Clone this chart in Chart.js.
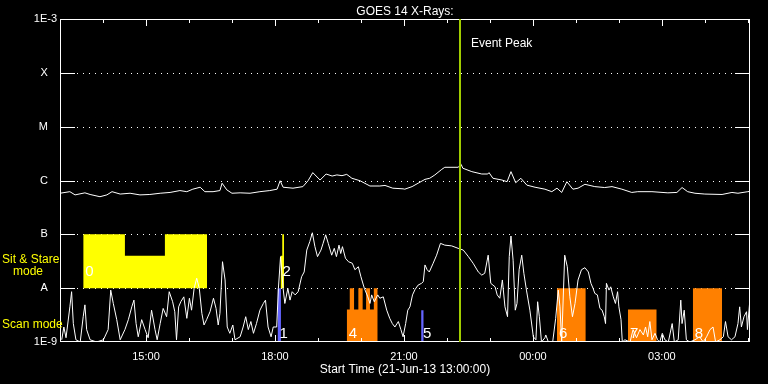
<!DOCTYPE html>
<html>
<head>
<meta charset="utf-8">
<script src="https://cdn.jsdelivr.net/npm/chart.js@4.4.1/dist/chart.umd.min.js"></script>
<style>
  html, body { margin: 0; padding: 0; background: #000; }
  canvas { display: block; }
</style>
</head>
<body>
<canvas id="goesChart" width="768" height="384"></canvas>
<script>
// times are clock hours from 21-Jun-13 13:00 (24 = 00:00 next day)
const longTimes = [13.00, 13.23, 13.35, 13.58, 13.70, 13.93, 14.09, 14.21, 14.40, 14.63, 14.86, 15.09, 15.33, 15.56,
  15.79, 15.95, 16.09, 16.26, 16.37, 16.56, 16.72, 16.77, 16.88, 17.00, 17.19, 17.42, 17.65, 17.88, 18.05, 18.12,
  18.19, 18.42, 18.65, 18.77, 18.88, 19.05, 19.19, 19.33, 19.44, 19.56, 19.67, 19.79, 19.98, 20.21, 20.44, 20.56,
  20.74, 20.98, 21.02, 21.19, 21.33, 21.49, 21.60, 21.72, 21.88, 21.95, 22.26, 22.33, 22.37, 22.58, 22.81, 22.95,
  22.98, 23.07, 23.28, 23.40, 23.49, 23.60, 23.72, 23.86, 24.05, 24.28, 24.44, 24.56, 24.67, 24.79, 24.93, 25.05,
  25.21, 25.44, 25.67, 25.84, 26.07, 26.30, 26.44, 26.77, 27.14, 27.35, 27.47, 27.60, 27.77, 28.00, 28.40, 28.63,
  28.77, 29.00, 29.05];
const longFlux = [5.8e-7, 6.2e-7, 5.4e-7, 5.9e-7, 5.5e-7, 5.0e-7, 5.4e-7, 6.2e-7, 5.6e-7, 5.8e-7, 5.4e-7, 5.5e-7, 5.8e-7, 6.0e-7,
  6.5e-7, 6.2e-7, 6.9e-7, 7.5e-7, 6.2e-7, 6.2e-7, 6.5e-7, 8.9e-7, 6.7e-7, 5.8e-7, 5.9e-7, 5.8e-7, 6.2e-7, 6.5e-7, 6.9e-7, 9.9e-7,
  7.5e-7, 7.2e-7, 7.7e-7, 9.9e-7, 1.40e-6, 1.02e-6, 1.32e-6, 1.21e-6, 1.27e-6, 1.23e-6, 1.30e-6, 1.10e-6, 9.9e-7, 7.9e-7, 7.9e-7, 8.1e-7,
  7.2e-7, 7.0e-7, 6.9e-7, 7.7e-7, 8.9e-7, 1.05e-6, 1.10e-6, 1.27e-6, 1.61e-6, 1.76e-6, 1.76e-6, 2.0e-6, 1.69e-6, 1.46e-6, 1.32e-6, 1.32e-6,
  1.40e-6, 1.10e-6, 1.02e-6, 9.5e-7, 1.46e-6, 9.1e-7, 1.10e-6, 8.2e-7, 7.5e-7, 6.9e-7, 6.2e-7, 7.2e-7, 6.0e-7, 9.5e-7, 6.9e-7, 7.2e-7,
  8.5e-7, 7.7e-7, 7.4e-7, 7.7e-7, 6.9e-7, 6.0e-7, 6.2e-7, 6.2e-7, 5.9e-7, 6.0e-7, 7.4e-7, 6.2e-7, 5.8e-7, 5.6e-7, 5.5e-7, 6.0e-7,
  5.8e-7, 6.2e-7, 6.3e-7];

const shortTimes = [13.04, 13.09, 13.14, 13.23, 13.27, 13.31, 13.37, 13.47, 13.54, 13.58, 13.62, 13.70, 13.85, 14.01,
  14.12, 14.18, 14.24, 14.32, 14.40, 14.51, 14.59, 14.67, 14.72, 14.77, 14.82, 14.90, 14.98, 15.05, 15.13, 15.21,
  15.26, 15.33, 15.40, 15.48, 15.54, 15.62, 15.67, 15.71, 15.76, 15.81, 15.88, 15.95, 16.01, 16.06, 16.12, 16.18,
  16.24, 16.30, 16.35, 16.41, 16.49, 16.57, 16.63, 16.68, 16.72, 16.78, 16.84, 16.89, 16.95, 17.02, 17.07, 17.19,
  17.26, 17.32, 17.38, 17.44, 17.50, 17.57, 17.65, 17.73, 17.78, 17.84, 17.91, 17.96, 18.04, 18.08, 18.13, 18.19,
  18.23, 18.30, 18.35, 18.40, 18.47, 18.54, 18.62, 18.68, 18.74, 18.81, 18.87, 18.93, 18.99, 19.07, 19.12, 19.18,
  19.24, 19.32, 19.38, 19.43, 19.49, 19.53, 19.57, 19.64, 19.71, 19.80, 19.86, 19.94, 20.00, 20.08, 20.16, 20.21,
  20.25, 20.31, 20.39, 20.44, 20.52, 20.60, 20.67, 20.73, 20.79, 20.87, 20.93, 20.98, 21.04, 21.09, 21.14, 21.20,
  21.26, 21.33, 21.41, 21.45, 21.49, 21.54, 21.59, 21.68, 21.76, 21.85, 21.95, 22.11, 22.26, 22.38, 22.50, 22.61,
  22.73, 22.81, 22.88, 22.96, 23.02, 23.12, 23.17, 23.23, 23.29, 23.35, 23.41, 23.45, 23.49, 23.54, 23.59, 23.63,
  23.68, 23.74, 23.79, 23.85, 23.93, 24.01, 24.07, 24.11, 24.15, 24.20, 24.28, 24.30, 24.36, 24.46, 24.53, 24.59,
  24.63, 24.67, 24.74, 24.80, 24.86, 24.92, 24.98, 25.05, 25.13, 25.21, 25.29, 25.35, 25.40, 25.44, 25.50, 25.56,
  25.61, 25.66, 25.69, 25.71, 25.77, 25.81, 25.87, 25.92, 25.97, 26.00, 26.05, 26.08, 26.14, 26.26, 26.33, 26.41,
  26.49, 26.57, 26.62, 26.67, 26.72, 26.77, 26.84, 26.90, 26.95, 27.01, 27.07, 27.15, 27.24, 27.29, 27.38, 27.44,
  27.47, 27.52, 27.57, 27.65, 27.77, 27.88, 27.96, 28.04, 28.12, 28.19, 28.25, 28.35, 28.43, 28.48, 28.54, 28.62,
  28.70, 28.77, 28.81, 28.85, 28.91, 28.97, 28.99, 29.05];
const shortFlux = [1.1e-9, 1.9e-9, 1.2e-9, 4.5e-9, 8.6e-9, 2.2e-9, 1.1e-9, 1.0e-9, 2.95e-9, 4.9e-9, 1.7e-9, 1.1e-9, 1.0e-9, 1.1e-9,
  1.7e-9, 9.2e-9, 5.2e-9, 2.6e-9, 1.1e-9, 1.7e-9, 2.6e-9, 4.5e-9, 6.0e-9, 2.2e-9, 1.25e-9, 2.6e-9, 1.7e-9, 1.2e-9, 3.9e-9, 1.7e-9,
  1.1e-9, 2.2e-9, 4.2e-9, 2.95e-9, 8.6e-9, 5.6e-9, 3.65e-9, 1.1e-9, 4.5e-9, 5.6e-9, 6.9e-9, 2.75e-9, 6.5e-9, 3.9e-9, 9.9e-9, 1.53e-8,
  9.9e-9, 3.4e-9, 2.07e-9, 2.6e-9, 3.65e-9, 6.5e-9, 4.2e-9, 2.07e-9, 3.4e-9, 3.1e-8, 1.42e-8, 1.9e-9, 1.45e-9, 2.07e-9, 1.1e-9, 1.25e-9,
  1.9e-9, 2.95e-9, 1.7e-9, 2.4e-9, 1.45e-9, 2.2e-9, 3.9e-9, 5.2e-9, 6.0e-9, 1.9e-9, 1.25e-9, 1.9e-9, 1.9e-9, 9.9e-9, 3.85e-8, 9.9e-9,
  5.2e-9, 9.9e-9, 6.0e-9, 8.6e-9, 7.5e-9, 8.6e-9, 1.63e-8, 2.0e-8, 5.1e-8, 7.3e-8, 1.07e-7, 5.9e-8, 3.85e-8, 5.1e-8, 6.8e-8, 9.8e-8,
  6.8e-8, 4.1e-8, 5.5e-8, 3.85e-8, 6.3e-8, 4.4e-8, 5.9e-8, 3.6e-8, 3.1e-8, 2.9e-8, 2.2e-8, 2.5e-8, 1.63e-8, 9.9e-9, 6.9e-9, 5.2e-9,
  7.5e-9, 5.6e-9, 7.5e-9, 6.5e-9, 6.9e-9, 3.9e-9, 2.75e-9, 2.2e-9, 1.9e-9, 2.4e-9, 1.7e-9, 1.25e-9, 2.2e-9, 3.9e-9, 4.5e-9, 7.5e-9,
  9.5e-9, 1.14e-8, 1.23e-8, 1.32e-8, 2.7e-8, 2.2e-8, 2.0e-8, 2.9e-8, 4.1e-8, 6.8e-8, 6.3e-8, 6.1e-8, 5.5e-8, 5.1e-8, 3.85e-8, 2.9e-8,
  2.0e-8, 1.75e-8, 1.89e-8, 4.1e-8, 1.23e-8, 1.06e-8, 7.5e-9, 6.5e-9, 1.42e-8, 4.5e-9, 2.95e-9, 3.85e-8, 9.3e-8, 3.3e-8, 3.9e-9, 5.2e-9,
  2.2e-8, 4.1e-8, 1.89e-8, 9.2e-9, 3.9e-9, 1.25e-9, 1.1e-9, 5.6e-9, 2.95e-9, 1.0e-9, 1.2e-9, 1.35e-9, 1.0e-9, 1.0e-9, 2.75e-9, 9.2e-9,
  4.5e-9, 1.0e-9, 4.1e-8, 2.5e-8, 6.9e-9, 2.95e-9, 5.2e-9, 1.42e-8, 2.2e-8, 2.4e-8, 2.0e-8, 1.23e-8, 9.9e-9, 8.0e-9, 7.5e-9, 4.2e-9,
  3.9e-9, 2.95e-9, 2.2e-9, 1.23e-8, 9.2e-9, 1.06e-8, 6.9e-9, 5.2e-9, 8.6e-9, 4.5e-9, 2.6e-9, 1.0e-9, 1.1e-9, 1.0e-9, 1.7e-9, 1.2e-9,
  1.7e-9, 1.35e-9, 1.9e-9, 1.25e-9, 2.4e-9, 1.1e-9, 1.45e-9, 1.1e-9, 1.0e-9, 1.45e-9, 1.1e-9, 1.0e-9, 2.2e-9, 1.0e-9, 1.1e-9, 6.0e-9,
  2.2e-9, 3.9e-9, 1.1e-9, 1.0e-9, 1.1e-9, 1.25e-9, 1.0e-9, 1.25e-9, 1.7e-9, 1.9e-9, 1.0e-9, 1.1e-9, 1.25e-9, 2.4e-9, 1.25e-9, 1.1e-9,
  1.25e-9, 2.2e-9, 4.5e-9, 1.9e-9, 2.95e-9, 3.65e-9, 1.7e-9, 6.5e-9];

// observing blocks: edges in hours, flux level of each step
const blockNames  = ['0', '2', '1', '4', '5', '6', '7', '8'];
const blockModes  = ['stare', 'stare', 'scanB', 'scan', 'scanB', 'scan', 'scan', 'scan'];
const blockEdges  = [
  [13.54, 14.51, 15.44, 16.42],
  [18.13, 18.17, 18.21],
  [18.06, 18.14],
  [19.67, 19.74, 19.84, 19.94, 20.04, 20.12, 20.21, 20.30, 20.39],
  [21.40, 21.46],
  [24.56, 25.23],
  [26.21, 26.88],
  [27.72, 28.40]
];
const blockLevels = [
  [1e-7, 4e-8, 1e-7],
  [4e-8, 1e-7],
  [1e-8],
  [4e-9, 1e-8, 4e-9, 1e-8, 4e-9, 1e-8, 4e-9, 1e-8],
  [3.9e-9],
  [1e-8],
  [4e-9],
  [1e-8]
];
const modeBase = { stare: 1e-8, scan: 1e-9, scanB: 1e-9 };

const eventPeak = 22.30;
const levelTicks  = [1e-9, 1e-8, 1e-7, 1e-6, 1e-5, 1e-4, 1e-3];
const levelLabels = ['1E-9', 'A   ', 'B   ', 'C   ', 'M   ', 'X   ', '1E-3'];
const flareLines  = [1e-8, 1e-7, 1e-6, 1e-5, 1e-4];
const hourTicks   = [15, 18, 21, 24, 27];

const modeColor = { stare: '#ffff00', scan: '#ff8000', scanB: '#6464ff' };
const FONT = '"Liberation Sans", Arial, sans-serif';

const pts = (xs, ys) => xs.map((x, i) => ({ x: x, y: ys[i] }));

const blockSets = blockNames.map((name, i) => {
  const base = modeBase[blockModes[i]];
  const e = blockEdges[i], l = blockLevels[i];
  const data = [{ x: e[0], y: base }];
  l.forEach((lev, k) => {
    data.push({ x: e[k], y: lev });
    data.push({ x: e[k + 1], y: lev });
  });
  data.push({ x: e[e.length - 1], y: base });
  return {
    data: data,
    borderColor: 'transparent',
    borderWidth: 0,
    backgroundColor: modeColor[blockModes[i]],
    pointRadius: 0,
    fill: { value: base }
  };
});

const decor = {
  id: 'decor',
  beforeDraw(chart) {
    const c = chart.ctx;
    c.save();
    c.fillStyle = '#000';
    c.fillRect(0, 0, chart.width, chart.height);
    c.restore();
  },
  beforeDatasetsDraw(chart) {
    const c = chart.ctx, a = chart.chartArea, ys = chart.scales.y;
    c.save();
    c.strokeStyle = '#fff';
    c.lineWidth = 1;
    flareLines.forEach(v => {
      const y = Math.round(ys.getPixelForValue(v)) + 0.5;
      c.setLineDash([]);
      c.beginPath();
      c.moveTo(a.left, y); c.lineTo(a.left + 15, y);
      c.moveTo(a.right - 15, y); c.lineTo(a.right, y);
      c.stroke();
      c.setLineDash([1, 5]);
      c.beginPath();
      c.moveTo(a.left + 17, y); c.lineTo(a.right - 15, y);
      c.stroke();
    });
    c.restore();
  },
  afterDatasetsDraw(chart) {
    const c = chart.ctx, a = chart.chartArea, xs = chart.scales.x, ys = chart.scales.y;
    c.save();
    c.strokeStyle = '#fff';
    c.lineWidth = 1;
    c.strokeRect(a.left + 0.5, a.top + 0.5, a.right - a.left - 1, a.bottom - a.top - 1);
    c.beginPath();
    for (let h = Math.ceil(xs.min); h <= Math.floor(xs.max); h++) {
      const x = Math.round(xs.getPixelForValue(h)) + 0.5;
      const len = h % 3 === 0 ? 7 : 4;
      c.moveTo(x, a.top); c.lineTo(x, a.top + len);
      c.moveTo(x, a.bottom); c.lineTo(x, a.bottom - len);
    }
    c.stroke();

    // event peak marker
    const px = Math.round(xs.getPixelForValue(eventPeak));
    c.strokeStyle = '#a0cc00';
    c.lineWidth = 2;
    c.beginPath();
    c.moveTo(px, a.top); c.lineTo(px, a.bottom);
    c.stroke();

    c.fillStyle = '#fff';
    c.textBaseline = 'alphabetic';
    c.font = '12px ' + FONT;
    c.textAlign = 'left';
    c.fillText('Event Peak', px + 11, 46.5);

    // block numbers
    c.font = '15px ' + FONT;
    blockNames.forEach((name, i) => {
      const base = ys.getPixelForValue(modeBase[blockModes[i]]);
      const x = xs.getPixelForValue(blockEdges[i][0]) + 2;
      const y = blockModes[i] === 'stare' ? base - 12 : base - 4;
      c.fillText(name, x, y);
    });

    // titles
    c.font = '12px ' + FONT;
    c.textAlign = 'center';
    const mid = (a.left + a.right) / 2;
    c.fillText('GOES 14 X-Rays:', mid, 14.5);
    c.fillText('Start Time (21-Jun-13 13:00:00)', mid, 372.5);

    c.textAlign = 'left';
    c.fillStyle = '#ffff00';
    c.fillText('Sit & Stare', 2, 263);
    c.fillText('mode', 13, 275);
    c.fillText('Scan mode', 2, 328);
    c.restore();
  }
};

new Chart(document.getElementById('goesChart'), {
  type: 'line',
  data: {
    datasets: [
      { data: pts(shortTimes, shortFlux), borderColor: '#fff', borderWidth: 1, pointRadius: 0, fill: false },
      { data: pts(longTimes, longFlux), borderColor: '#fff', borderWidth: 1, pointRadius: 0, fill: false },
      ...blockSets
    ]
  },
  options: {
    responsive: false,
    animation: false,
    devicePixelRatio: 1,
    layout: { padding: { top: 19, right: 18, left: 0, bottom: 0 } },
    plugins: {
      legend: { display: false },
      tooltip: { enabled: false },
      title: { display: false }
    },
    scales: {
      x: {
        type: 'linear',
        min: 13,
        max: 29.05,
        afterBuildTicks: s => { s.ticks = hourTicks.map(v => ({ value: v })); },
        afterFit: s => { s.height = 42; },
        grid: { display: false, drawTicks: false },
        border: { display: false },
        ticks: {
          color: '#fff',
          font: { family: FONT, size: 11 },
          padding: 8,
          maxRotation: 0,
          autoSkip: false,
          callback: v => String(v % 24).padStart(2, '0') + ':00'
        }
      },
      y: {
        type: 'logarithmic',
        min: 1e-9,
        max: 1e-3,
        afterBuildTicks: s => { s.ticks = levelTicks.map(v => ({ value: v })); },
        afterFit: s => { s.width = 60; },
        grid: { display: false, drawTicks: false },
        border: { display: false },
        ticks: {
          color: '#fff',
          font: { family: FONT, size: 11 },
          padding: 3,
          autoSkip: false,
          callback: (v, i) => levelLabels[i]
        }
      }
    }
  },
  plugins: [decor]
});
</script>
</body>
</html>
